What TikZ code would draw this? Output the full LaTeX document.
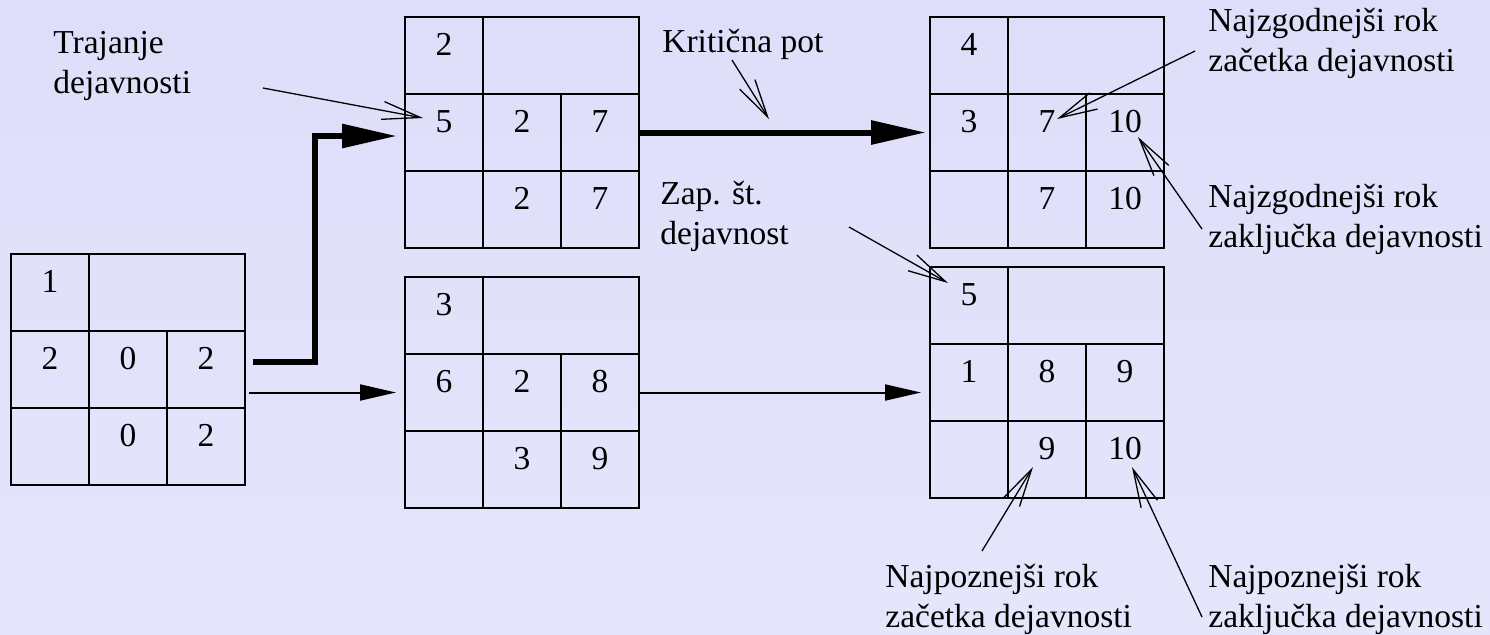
\documentclass[tikz,border=0pt]{standalone}
\usepackage{fontspec}
\setmainfont{Liberation Serif}
\usetikzlibrary{arrows.meta}

\definecolor{bgtop}{RGB}{222,222,250}
\definecolor{bgmid}{RGB}{211,211,248}
\definecolor{bgbot}{RGB}{229,229,251}

\begin{document}
\begin{tikzpicture}[
        x = 0.5pt, y = -0.5pt, % one unit = one pixel, y downwards
        font = \fontsize{16.75}{20}\selectfont,
        crit/.style = {line width = 3pt, -{Triangle[length=27.5pt, width=11.5pt]}}, % critical path
        flow/.style = {line width = 1pt, -{Triangle[length=18pt, width=8pt]}},
        note/.style = {line width = 0.65pt, -{Straight Barb[length=19pt, width=9pt]}} % pointer to a field
    ]

        \tikzstyle{cell}=[
            draw = black,
            line width = 1pt,
            minimum width = 39pt,
            minimum height = 38.5pt,
            inner sep = 0pt,
            text height = 0pt, % baseline in the middle of the cell
            text depth = 0pt
        ]
        \tikzstyle{wide cell}=[cell, minimum width = 78pt]
        \tikzstyle{label}=[align = left, anchor = base west, inner sep = 0pt] % base = last line

        % background
        \fill[top color = bgtop, middle color = bgmid, bottom color = bgbot] (0,0) rectangle (1490,634);
        \useasboundingbox (0,0) rectangle (1490,634);

        % activities: box/left/top/number/duration/ES/EF/LS/LF
        \foreach \i/\x/\y/\num/\dur/\es/\ef/\ls/\lf in {
                1/11/254/1/2/0/2/0/2,
                2/405/17/2/5/2/7/2/7,
                3/405/277/3/6/2/8/3/9,
                4/930/17/4/3/7/10/7/10,
                5/930/267/5/1/8/9/9/10}{
            \node[cell] (b\i-n) at (\x+39, \y+38.5) {\num};
            \node[wide cell] (b\i-e) at (\x+156, \y+38.5) {};
            \node[cell] (b\i-d) at (\x+39, \y+115.5) {\dur};
            \node[cell] (b\i-es) at (\x+117, \y+115.5) {\es};
            \node[cell] (b\i-ef) at (\x+195, \y+115.5) {\ef};
            \node[cell] (b\i-x) at (\x+39, \y+192.5) {};
            \node[cell] (b\i-ls) at (\x+117, \y+192.5) {\ls};
            \node[cell] (b\i-lf) at (\x+195, \y+192.5) {\lf};
        }

        % critical path
        \draw[crit] ([shift={(7,-7.5)}]b1-ef.east) -- ++(62,0) |- ([shift={(-7,3.5)}]b2-d.west);
        \path[crit, shorten > = 1.5pt] (b2-ef.east) edge (b4-d.west);

        % other paths
        \path[flow, shorten < = 1.5pt, shorten > = 4pt] (b1-ef.east |- b3-d.west) edge (b3-d.west);
        \path[flow, shorten > = 4pt] (b3-ef.east) edge (b3-ef.east -| b5-d.west);

        % labels
        \node[label] (l-traj) at (53,93) {Trajanje\\dejavnosti};
        \node[label] (l-krit) at (662,52) {Kritična pot};
        \node[label] (l-zap) at (660,244) {Zap. št.\\dejavnost};
        \node[label] (l-es) at (1208,71) {Najzgodnejši rok\\začetka dejavnosti};
        \node[label] (l-ef) at (1208,247) {Najzgodnejši rok\\zaključka dejavnosti};
        \node[label] (l-ls) at (885,627) {Najpoznejši rok\\začetka dejavnosti};
        \node[label] (l-lf) at (1208,627) {Najpoznejši rok\\zaključka dejavnosti};

        \coordinate (t-traj) at (263,88);
        \coordinate (t-krit) at (732,60);
        \coordinate (t-zap) at (849,227);
        \coordinate (t-es) at (1195,51);
        \coordinate (t-ef) at (1202,229);
        \coordinate (t-ls) at (982,551);
        \coordinate (t-lf) at (1202,617);

        \draw[note] (t-traj) -- ([shift={(-21,-14.5)}]b2-d.center);
        \draw[note] (t-krit) -- ([shift={(129,-13.5)}]b2-ef.east);
        \draw[note] (t-zap) -- ([shift={(-21,-22.5)}]b5-n.center);
        \draw[note] (t-es) -- ([shift={(10,-13.5)}]b4-es.center);
        \draw[note] (t-ef) -- ([shift={(13,4.5)}]b4-ef.center);
        \draw[note] (t-ls) -- ([shift={(-14,7.5)}]b5-ls.center);
        \draw[note] (t-lf) -- ([shift={(7,7.5)}]b5-lf.center);
\end{tikzpicture}
\end{document}
